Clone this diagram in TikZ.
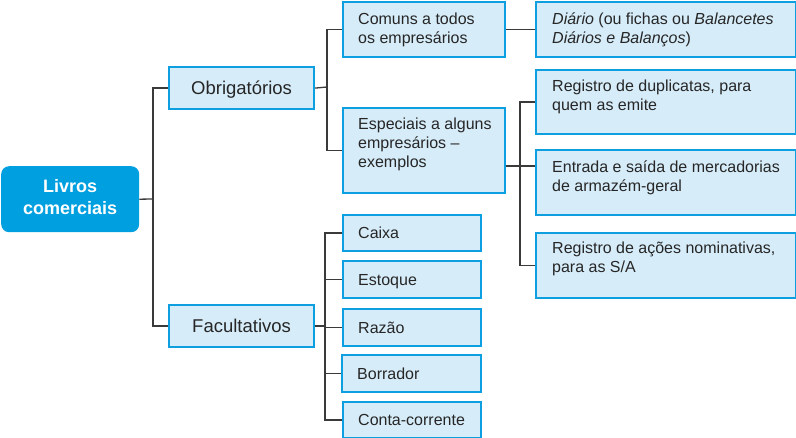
\documentclass[tikz,border=0pt]{standalone}
\usepackage{fontspec}
\setmainfont{Liberation Sans}
\definecolor{rootfill}{HTML}{009FE0}
\definecolor{boxfill}{HTML}{D6ECF9}
\definecolor{boxline}{HTML}{0E9FE0}
\definecolor{linkcol}{HTML}{3A3A3A}
\newcommand\inner{\fontsize{16}{19}\selectfont}
\newcommand\levone{\fontsize{18.5}{22}\selectfont}
\begin{document}
\begin{tikzpicture}[x=1pt,y=-1pt,
  boxnode/.style={draw=boxline, fill=boxfill, line width=2.2pt, inner sep=0pt, anchor=north west},
  rootnode/.style={fill=rootfill, rounded corners=8pt, inner sep=0pt, anchor=north west},
  txt/.style={inner sep=0pt, font=\inner, text=black!85},
  link/.style={draw=linkcol, line width=1.3pt}]
\useasboundingbox (0,0) rectangle (796,438);

% root
\node[rootnode, minimum width=138pt, minimum height=66pt] (root) at (1,166) {};
\node[inner sep=0pt, anchor=base, text=white, font=\bfseries\fontsize{18}{22}\selectfont] (root-t) at ([yshift=-27pt]root.north) {\parbox[t]{130pt}{\centering Livros\\comerciais}};

% level 1
\node[boxnode, minimum width=145pt, minimum height=42pt] (obr) at (168,66) {};
\node[txt, font=\levone, anchor=base] (obr-t) at ([yshift=-6.6pt]obr.center) {Obrigatórios};
\node[boxnode, minimum width=145pt, minimum height=42pt] (fac) at (168,304) {};
\node[txt, font=\levone, anchor=base] (fac-t) at ([yshift=-6.6pt]fac.center) {Facultativos};

% level 2 (obrigatorios)
\node[boxnode, minimum width=162pt, minimum height=55pt] (com) at (342,1) {};
\node[txt, anchor=base west] (com-t) at ([xshift=16pt,yshift=-24pt]com.north west) {\parbox[t]{140pt}{\raggedright Comuns a todos\\os empresários}};
\node[boxnode, minimum width=162pt, minimum height=85pt] (esp) at (342,107) {};
\node[txt, anchor=base west] (esp-t) at ([xshift=16pt,yshift=-23pt]esp.north west) {\parbox[t]{140pt}{\raggedright Especiais a alguns\\empresários –\\exemplos}};

% level 3
\node[boxnode, minimum width=260pt, minimum height=55pt] (dia) at (535,1) {};
\node[txt, anchor=base west] (dia-t) at ([xshift=17pt,yshift=-24pt]dia.north west) {\parbox[t]{240pt}{\raggedright \textit{Diário} (ou fichas ou \textit{Balancetes}\\\textit{Diários e Balanços})}};
\node[boxnode, minimum width=260pt, minimum height=64pt] (dup) at (535,69) {};
\node[txt, anchor=base west] (dup-t) at ([xshift=17pt,yshift=-23pt]dup.north west) {\parbox[t]{240pt}{\raggedright Registro de duplicatas, para\\quem as emite}};
\node[boxnode, minimum width=260pt, minimum height=65pt] (ent) at (535,149) {};
\node[txt, anchor=base west] (ent-t) at ([xshift=17pt,yshift=-24pt]ent.north west) {\parbox[t]{240pt}{\raggedright Entrada e saída de mercadorias\\de armazém-geral}};
\node[boxnode, minimum width=260pt, minimum height=65pt] (aco) at (535,232) {};
\node[txt, anchor=base west] (aco-t) at ([xshift=17pt,yshift=-22pt]aco.north west) {\parbox[t]{240pt}{\raggedright Registro de ações nominativas,\\para as S/A}};

% level 2 (facultativos)
\node[boxnode, minimum width=138pt, minimum height=36pt] (cai) at (342,214) {};
\node[txt, anchor=base west] (cai-t) at ([xshift=16pt,yshift=-5.5pt]cai.west) {Caixa};
\node[boxnode, minimum width=138pt, minimum height=37pt] (est) at (342,260) {};
\node[txt, anchor=base west] (est-t) at ([xshift=16pt,yshift=-5.5pt]est.west) {Estoque};
\node[boxnode, minimum width=138pt, minimum height=37pt] (raz) at (342,308) {};
\node[txt, anchor=base west] (raz-t) at ([xshift=16pt,yshift=-5.5pt]raz.west) {Razão};
\node[boxnode, minimum width=139pt, minimum height=37pt] (bor) at (341,354) {};
\node[txt, anchor=base west] (bor-t) at ([xshift=16pt,yshift=-5.5pt]bor.west) {Borrador};
\node[boxnode, minimum width=138pt, minimum height=36pt] (con) at (342,401) {};
\node[txt, anchor=base west] (con-t) at ([xshift=16pt,yshift=-5.5pt]con.west) {Conta-corrente};

% trunk coordinates
\coordinate (t1) at (153,199);
\coordinate (t2) at (327,87);
\coordinate (t3) at (520,166);
\coordinate (t4) at (325,326);

% connectors
\draw[link] (root.east) -- (t1);
\draw[link] (obr.west) -| (t1) |- (fac.west);
\draw[link] (obr.east) -- (t2);
\draw[link] (com.west) -| (t2) |- (esp.west);
\draw[link] (com.east) -- (dia.west);
\draw[link] (esp.east |- t3) -- (ent.west |- t3);
\draw[link] (dup.west) -| (t3) |- (aco.west);
\draw[link] (fac.east |- t4) -- (t4);
\draw[link] (cai.west) -| (t4) |- (con.west);
\draw[link] (est.west) -- (est.west -| t4);
\draw[link] (raz.west) -- (raz.west -| t4);
\draw[link] (bor.west) -- (bor.west -| t4);
\end{tikzpicture}
\end{document}
